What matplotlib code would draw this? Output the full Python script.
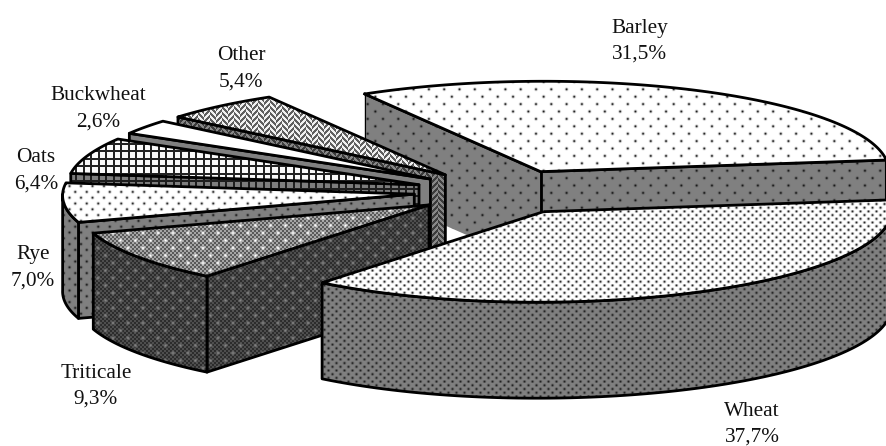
import numpy as np
import matplotlib
matplotlib.use("Agg")
import matplotlib.pyplot as plt
from matplotlib.patches import Polygon

# Sown area shares by crop, counter-clockwise from the Barley/Wheat boundary
crops = ["Barley", "Other", "Buckwheat", "Oats", "Rye", "Triticale", "Wheat"]
shares = [31.5, 5.4, 2.6, 6.4, 7.0, 9.3, 37.7]

W, H = 886, 446
START_ANGLE = 0.1328      # radians
EXPLODE = 0.25            # pie radii
DEPTH = 96.0              # pixels
LINE = 2.0
# Plane of the pie top -> canvas
CAMERA = np.array([[351.54, 6.06, 501.5],
                   [0.96, -90.37, 192.0],
                   [0.0037, 0.0006, 1.0]])


def project(x, y):
    v = CAMERA @ np.vstack([x, y, np.ones_like(x)])
    return np.column_stack([v[0] / v[2], v[1] / v[2]])


yy, xx = np.mgrid[0:H, 0:W].astype(float)


def lattice(dx, dy, radius):
    j = np.round(yy / dy)
    i = np.round((xx - j * dx / 2) / dx)
    d2 = (xx - (i + j / 2) * dx) ** 2 + (yy - j * dy) ** 2
    return np.exp(-d2 / radius ** 2)


def dotted(bg, fg, dx, dy, radius=1.25):
    k = lattice(dx, dy, radius)
    return bg + (fg - bg) * k


def checker(low, high):
    return np.where((xx // 2 + yy // 2) % 2 == 0, low, high)


def sparkled(low, high, star):
    k = lattice(15.0, 7.5, 1.7)
    return checker(low, high) * (1 - k) + star * k


def grid(bg, line, step=7.5):
    gx = (xx % step) < 2
    gy = (yy % step) < 2
    return np.where(gx | gy, line, bg)


def weave(bg, line):
    col = (xx // 6) % 2
    diag = np.where(col == 0, xx + yy, xx - yy)
    return np.where((diag % 6) < 2.6, line, bg)


TOP = {
    "Barley": dotted(255, 30, 15.3, 7.4),
    "Other": weave(240, 95),
    "Buckwheat": np.full((H, W), 255.0),
    "Oats": grid(250, 35),
    "Rye": dotted(255, 40, 11.5, 5.8),
    "Triticale": sparkled(90, 165, 255),
    "Wheat": dotted(255, 40, 8.0, 3.7),
}
SIDE = {
    "Barley": dotted(128, 25, 15.3, 7.4),
    "Other": weave(135, 60),
    "Buckwheat": np.full((H, W), 128.0),
    "Oats": grid(125, 30),
    "Rye": dotted(128, 30, 11.5, 5.8),
    "Triticale": sparkled(45, 78, 130),
    "Wheat": dotted(128, 35, 8.0, 3.7),
}

fig = plt.figure(figsize=(W / 100, H / 100), dpi=100)
ax = fig.add_axes([0, 0, 1, 1])
ax.set_xlim(0, W)
ax.set_ylim(H, 0)
ax.axis("off")

z = [1]


def face(points, texture, edge=True):
    patch = Polygon(points, closed=True, facecolor="none",
                    edgecolor="black" if edge else "none",
                    lw=LINE if edge else 0, joinstyle="round", zorder=z[0] + 1)
    ax.add_patch(patch)
    im = ax.imshow(texture, cmap="gray", vmin=0, vmax=255, extent=[0, W, H, 0],
                   interpolation="bilinear", aspect="auto", zorder=z[0])
    im.set_clip_path(patch)
    z[0] += 2


def lowered(points, depth=DEPTH):
    return points + np.array([0, depth])


fractions = np.array(shares) / sum(shares) * 2 * np.pi
starts = START_ANGLE + np.concatenate([[0], np.cumsum(fractions)[:-1]])

for crop, a0, span in zip(crops, starts, fractions):
    a1 = a0 + span
    mid = (a0 + a1) / 2
    ox, oy = EXPLODE * np.cos(mid), EXPLODE * np.sin(mid)
    apex = project(np.array([ox]), np.array([oy]))
    theta = np.linspace(a0, a1, 160)
    rim = project(ox + np.cos(theta), oy + np.sin(theta))

    # Cut walls that face the viewer
    if np.cos(a0) > 0:
        edge = np.vstack([apex, rim[:1]])
        face(np.vstack([edge, lowered(edge)[::-1]]), SIDE[crop])
    if np.cos(a1) < 0:
        edge = np.vstack([apex, rim[-1:]])
        if crop == "Barley":
            # The far end of this wall is chamfered up towards the rim
            knee = rim[-1] + 0.46 * (apex[0] - rim[-1])
            wall = np.vstack([edge, rim[-1:] + [0, 44], knee + [0, DEPTH], apex + [0, DEPTH]])
            face(wall, SIDE[crop], edge=False)
            ax.plot([rim[-1, 0]] * 2, [rim[-1, 1], rim[-1, 1] + 44], color="black",
                    lw=0.8, zorder=z[0])
            ax.plot(edge[:, 0], edge[:, 1], color="black", lw=LINE, zorder=z[0])
            ax.plot([apex[0, 0]] * 2, [apex[0, 1], apex[0, 1] + DEPTH], color="black",
                    lw=LINE, zorder=z[0])
        else:
            face(np.vstack([edge, lowered(edge)[::-1]]), SIDE[crop])

    # Outer wall on the near half of the rim
    near = np.sin(theta) < 0
    if near.any():
        arc = rim[near]
        face(np.vstack([arc, lowered(arc)[::-1]]), SIDE[crop])

    face(np.vstack([apex, rim]), TOP[crop])

# Label anchors on the canvas, one per crop
label_xy = [(640, 41), (241, 69), (98, 109), (36, 171), (33, 268), (96, 386), (752, 424)]
for crop, share, (lx, ly) in zip(crops, shares, label_xy):
    text = f"{crop}\n{share:.1f}%".replace(".", ",")
    ax.text(lx, ly, text, ha="center", va="center", family="Liberation Serif",
            fontsize=15.3, linespacing=1.5, color="#111111", zorder=z[0] + 5)

ax.set_xlim(0, W)
ax.set_ylim(H, 0)
fig.savefig("out.png", dpi=100, facecolor="white")
